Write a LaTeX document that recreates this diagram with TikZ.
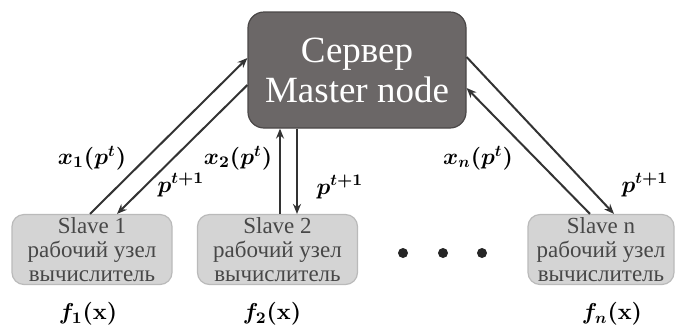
\RequirePackage{fix-cm}
\documentclass[tikz,border=0pt]{standalone}
\usepackage{amsmath,amssymb}
\usepackage[no-math]{fontspec}
\setmainfont{Liberation Serif}
\newfontfamily\boxfont{Liberation Serif}
\usetikzlibrary{positioning,arrows.meta,calc}
\usepackage{xcolor}
\definecolor{masterfill}{HTML}{6B6767}
\definecolor{masterline}{HTML}{4A4747}
\definecolor{slavefill}{HTML}{D4D4D4}
\definecolor{slaveline}{HTML}{BABABA}
\definecolor{slavetext}{HTML}{474747}
\definecolor{linkcol}{HTML}{333333}
\tikzset{
  >={Stealth[length=5pt,width=4pt]},
  master/.style={draw=masterline,fill=masterfill,rounded corners=8pt,
    minimum width=109pt,minimum height=58pt,inner sep=0pt,
    text=white,align=center,font=\boxfont\fontsize{18.5}{20}\selectfont,line width=0.6pt},
  slave/.style={draw=slaveline,fill=slavefill,rounded corners=6pt,
    minimum width=80pt,minimum height=35pt,inner sep=0pt,
    text=slavetext,align=center,font=\boxfont\fontsize{11.5}{12}\selectfont,line width=0.6pt},
  link/.style={->,draw=linkcol,line width=1pt},
  lbl/.style={font=\fontsize{11.5}{13}\selectfont},
}

\begin{document}
\begin{tikzpicture}[x=0.5pt,y=-0.5pt]
\useasboundingbox (0,0) rectangle (676,329);

\node[master] (master) at (357,70) {Сервер\\Master node};
\node[slave] (s1) at (92,249.5) {Slave 1\\рабочий узел\\вычислитель};
\node[slave] (s2) at (277.5,249.5) {Slave 2\\рабочий узел\\вычислитель};
\node[slave,minimum width=73pt] (sn) at (601,249.5) {Slave n\\рабочий узел\\вычислитель};

\foreach \i/\x in {1/403,2/443,3/482}
  \node[circle,fill=black!85,inner sep=0pt,minimum size=5pt] (d\i) at (\x,253) {};

% slave 1
\draw[link] ([xshift=-1pt]s1.north) -- ([yshift=6pt]master.west);
\draw[link] ([yshift=-7.5pt]master.west) -- ([xshift=12.5pt]s1.north);
% slave 2
\draw[link] ([xshift=1.25pt]s2.north) -- ([xshift=1.25pt]s2.north |- master.south);
\draw[link] ([xshift=9.75pt]s2.north |- master.south) -- ([xshift=9.75pt]s2.north);
% slave n
\draw[link] ([xshift=-5.5pt]sn.north) -- ([yshift=-9pt]master.east);
\draw[link] ([yshift=6.5pt]master.east) -- ([xshift=6.5pt]sn.north);

\node[lbl] (x1) at (92,158) {$\boldsymbol{x_1(p^t)}$};
\node[lbl] (p1) at (181,185) {$\boldsymbol{p^{t+1}}$};
\node[lbl] (x2) at (238,158) {$\boldsymbol{x_2(p^t)}$};
\node[lbl] (p2) at (340,187) {$\boldsymbol{p^{t+1}}$};
\node[lbl] (xn) at (478,158) {$\boldsymbol{x_n(p^t)}$};
\node[lbl] (pn) at (645,185) {$\boldsymbol{p^{t+1}}$};

\node[lbl] (f1) at (88,314) {$\boldsymbol{f_1(\mathbf{x})}$};
\node[lbl] (f2) at (272,314) {$\boldsymbol{f_2(\mathbf{x})}$};
\node[lbl] (fn) at (612,314) {$\boldsymbol{f_n(\mathbf{x})}$};
\end{tikzpicture}
\end{document}
